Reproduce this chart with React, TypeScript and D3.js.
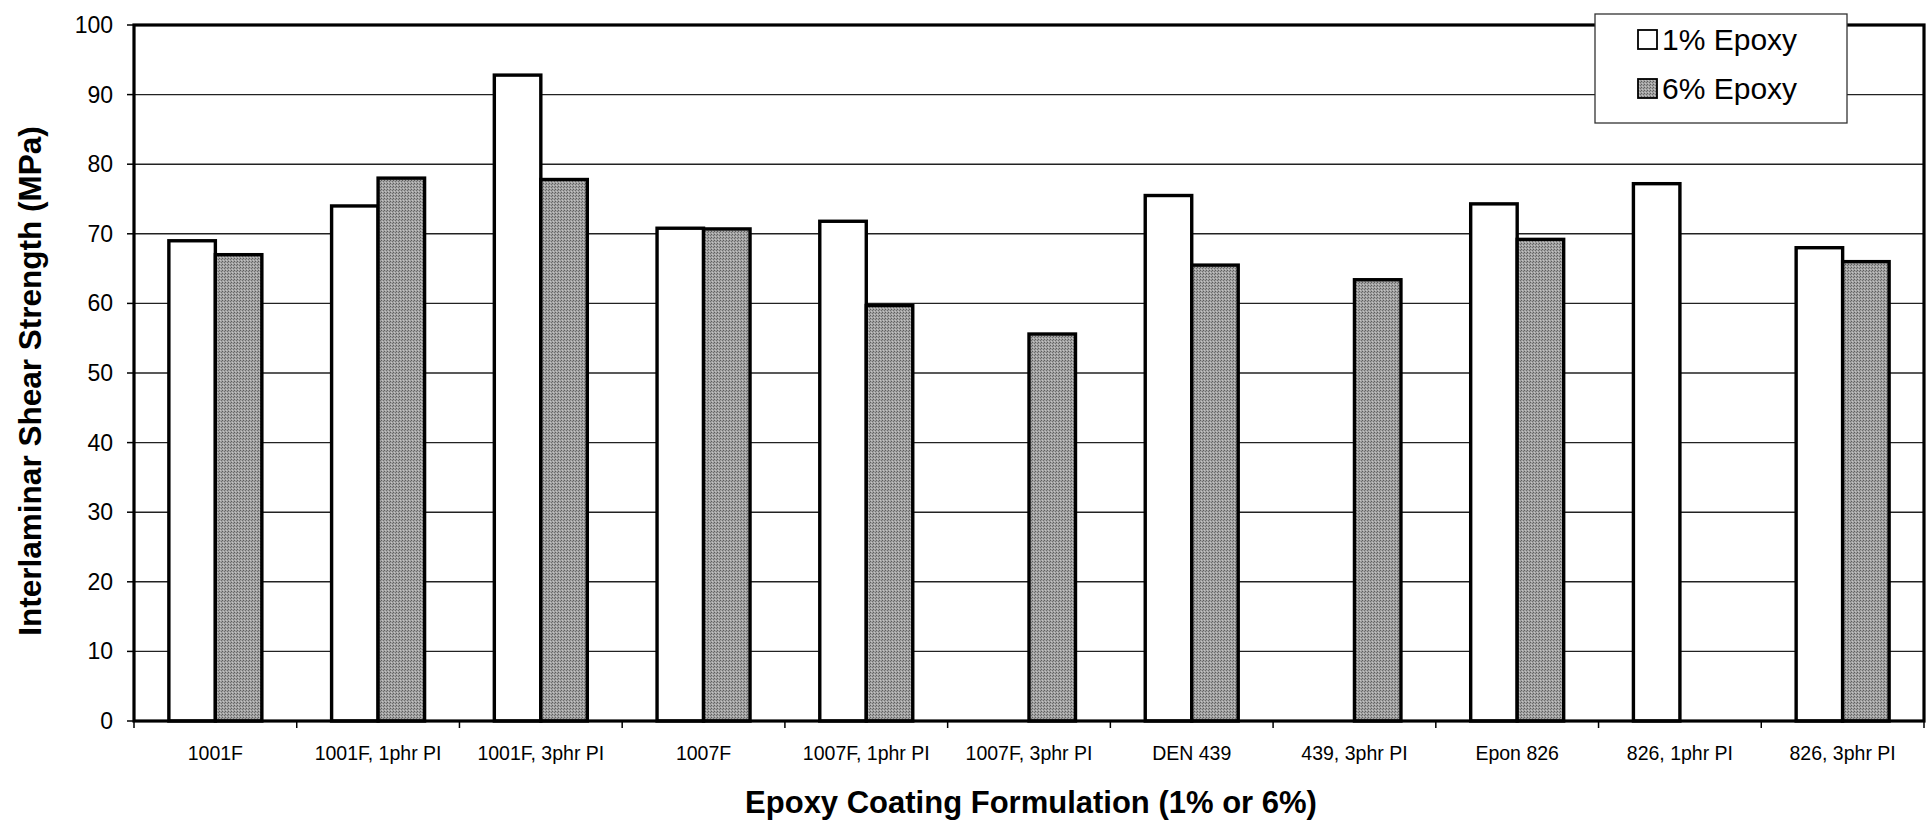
import React from "react";
import * as d3 from "d3";

const categories = [
  "1001F",
  "1001F, 1phr PI",
  "1001F, 3phr PI",
  "1007F",
  "1007F, 1phr PI",
  "1007F, 3phr PI",
  "DEN 439",
  "439, 3phr PI",
  "Epon 826",
  "826, 1phr PI",
  "826, 3phr PI",
];
const seriesNames = ["1% Epoxy", "6% Epoxy"];
const epoxy1: (number | null)[] = [69, 74, 92.8, 70.8, 71.8, null, 75.5, null, 74.3, 77.2, 68];
const epoxy6: (number | null)[] = [67, 78, 77.8, 70.7, 59.7, 55.6, 65.5, 63.4, 69.2, null, 66];
const yTicks = [0, 10, 20, 30, 40, 50, 60, 70, 80, 90, 100];
const seriesFills = ["#ffffff", "url(#dither)"];

const W = 1927;
const H = 825;
const M = { left: 134, right: 1924, top: 25, bottom: 721 };

export default function App() {
  const x = d3.scaleBand<string>().domain(categories).range([M.left, M.right]).paddingInner(0).paddingOuter(0);
  const xs = d3.scaleBand<string>().domain(seriesNames).range([0, x.bandwidth()]).paddingInner(0).paddingOuter(0.75);
  const y = d3.scaleLinear().domain([0, 100]).range([M.bottom, M.top]);
  const series = [epoxy1, epoxy6];
  const font = "'Liberation Sans', Arial, sans-serif";

  return (
    <svg width={W} height={H} style={{ position: "absolute", left: 0, top: 0, background: "#fff" }} fontFamily={font}>
      <defs>
        <pattern id="dither" patternUnits="userSpaceOnUse" width={3} height={3}>
          <rect width={3} height={3} fill="#a2a2a2" />
          <rect x={0} y={0} width={1} height={1} fill="#5e5e5e" />
          <rect x={2} y={1} width={1} height={1} fill="#6e6e6e" />
          <rect x={1} y={2} width={1} height={1} fill="#c4c4c4" />
        </pattern>
      </defs>
      {/* gridlines */}
      {yTicks.filter((t) => t > 0 && t < 100).map((t) => (
        <line key={"g" + t} x1={M.left} x2={M.right} y1={y(t)} y2={y(t)} stroke="#222" strokeWidth={1.4} />
      ))}
      {/* bars */}
      {categories.map((c, i) => (
        <g key={c}>
          {series.map((s, si) => {
            const v = s[i];
            if (v == null) return null;
            return (
              <rect
                key={si}
                x={(x(c) as number) + (xs(seriesNames[si]) as number)}
                y={y(v)}
                width={xs.bandwidth()}
                height={y(0) - y(v)}
                fill={seriesFills[si]}
                stroke="#000"
                strokeWidth={3.4}
              />
            );
          })}
        </g>
      ))}
      {/* frame */}
      <rect x={M.left} y={M.top} width={M.right - M.left} height={M.bottom - M.top} fill="none" stroke="#000" strokeWidth={3.2} />
      {/* y ticks */}
      {yTicks.map((t) => (
        <g key={"y" + t}>
          <line x1={M.left - 7} x2={M.left} y1={y(t)} y2={y(t)} stroke="#000" strokeWidth={1.5} />
          <text x={113} y={y(t) + 8} textAnchor="end" fontSize={23} fill="#000">
            {t}
          </text>
        </g>
      ))}
      {/* x ticks */}
      {categories.map((c, i) => (
        <line key={"xt" + i} x1={x(c) as number} x2={x(c) as number} y1={M.bottom} y2={M.bottom + 7} stroke="#000" strokeWidth={1.5} />
      ))}
      <line x1={M.right} x2={M.right} y1={M.bottom} y2={M.bottom + 7} stroke="#000" strokeWidth={1.5} />
      {categories.map((c) => (
        <text key={"xl" + c} x={(x(c) as number) + x.bandwidth() / 2} y={760} textAnchor="middle" fontSize={19.5} fill="#000">
          {c}
        </text>
      ))}
      {/* axis titles */}
      <text x={1031} y={813} textAnchor="middle" fontSize={31} fontWeight="bold" fill="#000">
        Epoxy Coating Formulation (1% or 6%)
      </text>
      <text
        transform={`translate(41, ${(M.top + M.bottom) / 2 + 8}) rotate(-90)`}
        textAnchor="middle"
        fontSize={31.5}
        fontWeight="bold"
        fill="#000"
      >
        Interlaminar Shear Strength (MPa)
      </text>
      {/* legend */}
      <g>
        <rect x={1595} y={14} width={252} height={109} fill="#fff" stroke="#333" strokeWidth={1.3} />
        {seriesNames.map((n, i) => (
          <g key={n}>
            <rect x={1638} y={30 + i * 49} width={19} height={19} fill={seriesFills[i]} stroke="#000" strokeWidth={1.8} />
            <text x={1662} y={50 + i * 49} fontSize={30} fill="#000">
              {n}
            </text>
          </g>
        ))}
      </g>
    </svg>
  );
}
